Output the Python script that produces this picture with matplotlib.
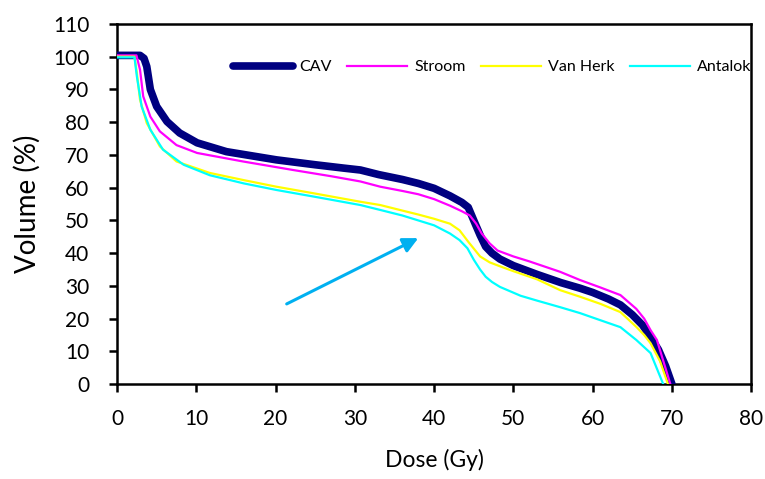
import matplotlib
matplotlib.use("Agg")
import matplotlib.pyplot as plt
import numpy as np

plt.rcParams['font.family'] = ['Lato', 'DejaVu Sans']

# dose-volume curves
cav_x = [0, 2.9, 3.4, 3.75, 4.2, 5.0, 6.3, 7.9, 10.1, 13.8, 20.1, 25, 28.5, 30.7, 33, 36, 38, 40, 42,
         43.5, 44.3, 45, 45.8, 46.5, 47.3, 48.3, 50, 53, 56, 58.4, 60, 62, 63.5, 65, 66.3, 67.3,
         68.3, 69.2, 70]
cav_y = [100.4, 100.4, 99.5, 97, 90, 84.8, 80.2, 76.7, 73.7, 71, 68.5, 67, 66, 65.4, 64, 62.5, 61.3,
         59.8, 57.5, 55.5, 54, 50, 45.5, 42, 40, 38.2, 36.2, 33.5, 31, 29.3, 28, 26, 24.2, 21.2, 18,
         14.4, 10.5, 5.5, 0]

stroom_x = [0, 2.45, 2.9, 3.3, 4.2, 5.4, 7.5, 10.1, 15.9, 22.2, 27, 30.7, 33.2, 36, 38, 40, 42, 43.5,
            44.5, 45.3, 46, 47, 48, 50, 52, 55.9, 58.4, 61, 63.5, 65.5, 66.5, 67.3, 68.1, 69.8]
stroom_y = [100.4, 100.4, 96, 87.9, 81.7, 77.2, 73, 70.6, 68, 65.4, 63.5, 61.9, 60.3, 59, 58, 56.5, 54.5,
            52.8, 51.5, 49, 46, 43, 40.8, 39, 37.5, 34.3, 31.8, 29.5, 27.2, 23, 20, 16.5, 13.5, 0]

vanherk_x = [0, 2.2, 2.5, 2.9, 3.75, 5.4, 7.5, 11.7, 16, 20.1, 25, 30.7, 33.2, 36, 38, 40, 42, 43.2,
             44.3, 45.8, 47, 48.3, 50, 53, 55.9, 58.4, 61, 63.5, 65.5, 66.5, 67.3, 68.5, 69.5]
vanherk_y = [100, 100, 95, 86.8, 79.7, 72.6, 68, 64.5, 62.3, 60.3, 58.2, 55.7, 54.7, 53, 51.8, 50.5, 49,
             47, 43.5, 39, 37.2, 36, 34.5, 32, 28.7, 26.7, 24.5, 22, 17.5, 15, 12.5, 7, 0]

antalok_x = [0, 2.2, 2.5, 3.1, 4.2, 5.8, 8.4, 11.7, 16, 20.1, 25, 30.7, 33.2, 36, 38, 40, 42, 43.2,
             44.2, 45, 45.8, 46.5, 47.3, 48.3, 50.9, 53, 55.9, 58.4, 61, 63.5, 65.5, 67.3, 68.9]
antalok_y = [99.8, 99.8, 94, 84.8, 77.7, 71.6, 67, 63.8, 61.3, 59.3, 57.2, 54.7, 53.2, 51.5, 50, 48.5, 46,
             44, 41.5, 38, 35, 32.8, 31.2, 29.7, 27, 25.5, 23.5, 21.7, 19.5, 17.4, 13.5, 9.5, 0]

arrow_from = (21.4, 24.5)
arrow_to = (38.0, 44.6)

fig = plt.figure(figsize=(7.65, 4.79), dpi=100)
ax = fig.add_axes([0.153, 0.198, 0.829, 0.752])

ax.plot(cav_x, cav_y, color='#000080', lw=5.5, label='CAV', solid_capstyle='round',
        solid_joinstyle='round', zorder=3)
ax.plot(stroom_x, stroom_y, color='#FF00FF', lw=1.6, label='Stroom', zorder=4)
ax.plot(vanherk_x, vanherk_y, color='#FFFF00', lw=1.6, label='Van Herk', zorder=4)
ax.plot(antalok_x, antalok_y, color='#00FFFF', lw=1.6, label='Antalok', zorder=4)

ax.annotate('', xy=arrow_to, xytext=arrow_from,
            arrowprops=dict(arrowstyle='-|>,head_length=0.9,head_width=0.45',
                            color='#00B0F0', lw=2.2, shrinkA=0, shrinkB=0))

ax.set_xlim(0, 80)
ax.set_ylim(0, 110)
ax.set_xticks(np.arange(0, 81, 10))
ax.set_yticks(np.arange(0, 111, 10))
for s in ax.spines.values():
    s.set_linewidth(1.8)
ax.tick_params(direction='out', length=6, width=1.8, labelsize=15, pad=12)
ax.tick_params(axis='y', pad=14)
ax.set_xlabel('Dose (Gy)', fontsize=16.5, labelpad=14)
ax.set_ylabel('Volume (%)', fontsize=20, labelpad=9)

ax.legend(loc='center right', bbox_to_anchor=(1.0, 0.88), ncol=4, frameon=False,
          fontsize=11.5, handlelength=3.75, handletextpad=0.45, columnspacing=0.95,
          borderaxespad=0, borderpad=0)

fig.savefig('out.png', dpi=100)
